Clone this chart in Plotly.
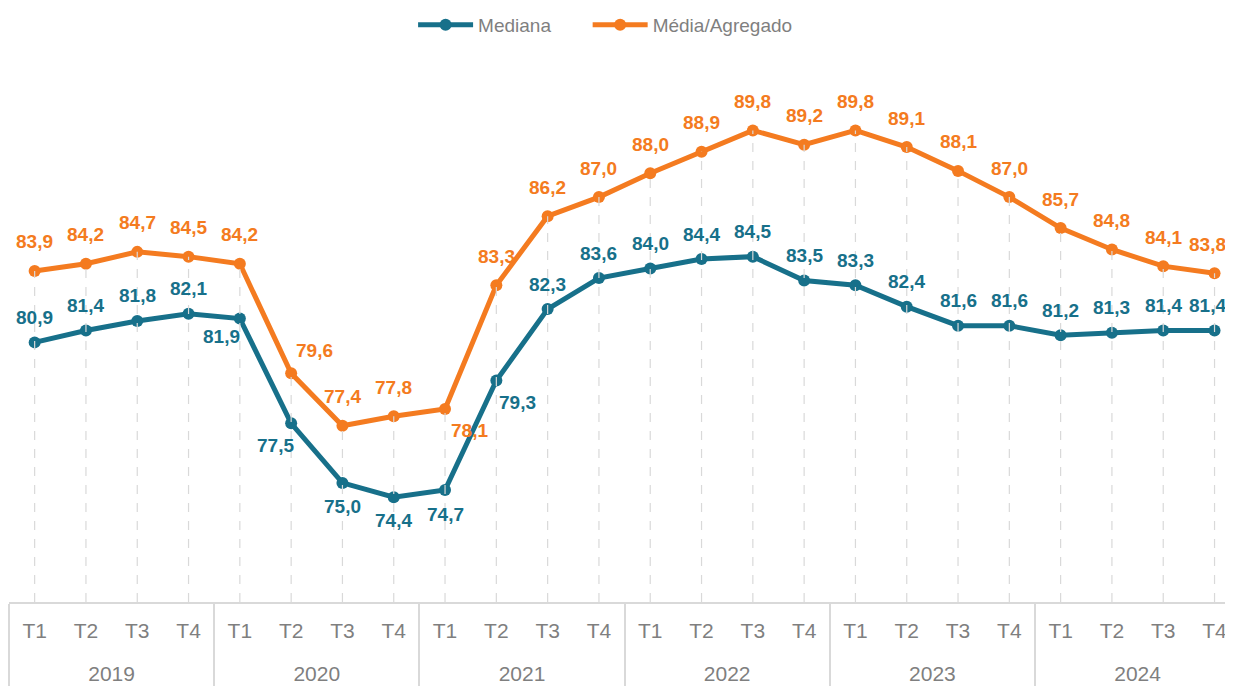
import plotly.graph_objects as go

years = ["2019", "2020", "2021", "2022", "2023", "2024"]
quarters = ["T1", "T2", "T3", "T4"]

mediana = [80.9, 81.4, 81.8, 82.1, 81.9, 77.5, 75.0, 74.4, 74.7, 79.3, 82.3, 83.6,
           84.0, 84.4, 84.5, 83.5, 83.3, 82.4, 81.6, 81.6, 81.2, 81.3, 81.4, 81.4]
media = [83.9, 84.2, 84.7, 84.5, 84.2, 79.6, 77.4, 77.8, 78.1, 83.3, 86.2, 87.0,
         88.0, 88.9, 89.8, 89.2, 89.8, 89.1, 88.1, 87.0, 85.7, 84.8, 84.1, 83.8]

year_labels = ["<br>" + y for y in years]
x_year = [y for y in year_labels for _ in quarters]
x_q = [q for _ in years for q in quarters]

TEAL = "#17708a"
ORANGE = "#f47b20"
GRAY = "#7f7f7f"
LIGHT = "#d9d9d9"
LABEL_FONT = "Liberation Sans, Arial, sans-serif"

# label placement (style): offsets in px relative to point
def offs_med(i):
    return {4: (-18, -18), 5: (-16, -22), 6: (0, -24), 7: (0, -23), 8: (0, -24), 9: (21, -22),
            23: (-7, 25)}.get(i, (0, 25))

def offs_avg(i):
    return {5: (23, 23), 8: (24, -21), 23: (-7, 29)}.get(i, (0, 29))

fig = go.Figure()

fig.add_trace(go.Scatter(x=[x_year, x_q], y=mediana, name="Mediana&nbsp;&nbsp;&nbsp;&nbsp;&nbsp;&nbsp;",
                         mode="lines+markers",
                         line=dict(color=TEAL, width=5), marker=dict(size=12, color=TEAL),
                         cliponaxis=False))
fig.add_trace(go.Scatter(x=[x_year, x_q], y=media, name="Média/Agregado", mode="lines+markers",
                         line=dict(color=ORANGE, width=5), marker=dict(size=12, color=ORANGE),
                         cliponaxis=False))

# dashed drop lines from the axis to the upper point
for i in range(len(media)):
    top = max(media[i], mediana[i])
    fig.add_trace(go.Scatter(x=[[x_year[i], x_year[i]], [x_q[i], x_q[i]]], y=[70, top],
                             mode="lines", line=dict(color=LIGHT, width=1.2, dash="dash"),
                             showlegend=False, hoverinfo="skip"))

annots = []
for vals, offs, col in ((mediana, offs_med, TEAL), (media, offs_avg, ORANGE)):
    for i, v in enumerate(vals):
        dx, dy = offs(i)
        annots.append(dict(x=i, y=v, xref="x", yref="y", text=f"{v:.1f}".replace(".", ","),
                           showarrow=False, xshift=dx, yshift=dy,
                           font=dict(family=LABEL_FONT, size=19, color=col, weight="bold")))

fig.update_layout(
    width=1233, height=680,
    margin=dict(l=1, r=8, t=70, b=86, autoexpand=False),
    paper_bgcolor="white", plot_bgcolor="white",
    font=dict(family=LABEL_FONT, color=GRAY),
    legend=dict(orientation="h", x=0.487, xanchor="center", y=0.975, yanchor="middle",
                yref="container", font=dict(size=19, color=GRAY), itemwidth=55),
    annotations=annots,
    showlegend=True,
)
fig.update_xaxes(type="multicategory", range=[-0.5, 23.36], showgrid=False,
                 showline=True, linecolor=LIGHT, linewidth=1.5,
                 showdividers=True, dividercolor=LIGHT, dividerwidth=1.5,
                 tickfont=dict(size=21, color=GRAY), ticks="", ticklabelstandoff=9,
                 automargin=False)
fig.update_yaxes(range=[70, 92], visible=False, showgrid=False, zeroline=False)

fig.write_html("out.html")
